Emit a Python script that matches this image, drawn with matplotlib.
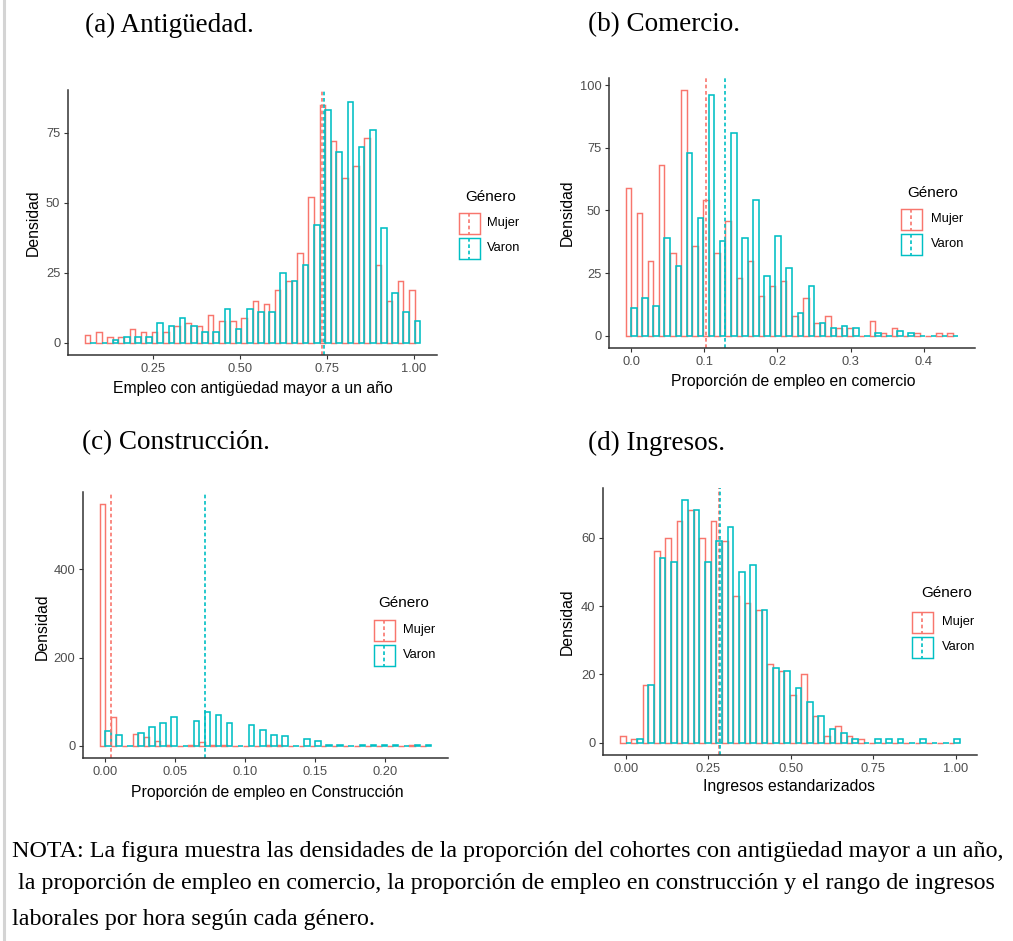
import matplotlib
matplotlib.use('Agg')
import matplotlib.pyplot as plt
from matplotlib.lines import Line2D
from matplotlib.patches import Rectangle
import numpy as np

W, H, DPI = 1013, 941, 100
RED = '#F8766D'
TEAL = '#00BFC4'
SANS = ['Liberation Sans', 'DejaVu Sans']
SERIF = ['Liberation Serif', 'DejaVu Serif']

# ---------------- data ----------------
titles = ['(a) Antigüedad.', '(b) Comercio.', '(c) Construcción.', '(d) Ingresos.']
xlabels = ['Empleo con antigüedad mayor a un año', 'Proporción de empleo en comercio',
           'Proporción de empleo en Construcción', 'Ingresos estandarizados']
ylabel = 'Densidad'
legend_title = 'Género'
groups = ['Mujer', 'Varon']

# (a) Antigüedad
a_first_center = 0.069
a_bin_width = 0.0322
a_mujer = [3, 4, 2, 2, 5, 4, 4, 4, 6, 7, 6, 10, 8, 8, 9, 15, 14, 19, 22, 32, 52, 85, 72, 59, 63, 73, 28, 15, 22, 19]
a_varon = [0, 0, 1, 2, 2, 2, 7, 6, 9, 6, 4, 4, 12, 5, 12, 11, 11, 25, 22, 28, 42, 83, 68, 86, 70, 76, 41, 18, 11, 8]
a_means = [0.735, 0.742]
a_xticks = [0.25, 0.50, 0.75, 1.00]
a_xticklabels = ['0.25', '0.50', '0.75', '1.00']
a_yticks = [0, 25, 50, 75]

# (b) Comercio
b_first_center = 0.0
b_bin_width = 0.01517
b_mujer = [59, 49, 30, 68, 33, 98, 36, 54, 33, 46, 23, 30, 16, 20, 22, 8, 15, 5, 8, 3, 3, 0, 6, 1, 3, 0, 1, 0, 1, 1]
b_varon = [11, 15, 12, 39, 28, 73, 47, 96, 38, 81, 39, 54, 24, 40, 27, 9, 20, 5, 3, 4, 3, 0, 1, 0, 2, 1, 0, 0, 0, 0]
b_means = [0.1025, 0.128]
b_xticks = [0.0, 0.1, 0.2, 0.3, 0.4]
b_xticklabels = ['0.0', '0.1', '0.2', '0.3', '0.4']
b_yticks = [0, 25, 50, 75, 100]

# (c) Construcción
c_first_center = 0.0
c_bin_width = 0.0079
c_mujer = [548, 66, 0, 26, 20, 11, 3, 0, 3, 8, 3, 3, 0, 0, 0, 3, 3, 0, 0, 0, 0, 0, 0, 0, 0, 0, 0, 0, 2, 0]
c_varon = [34, 25, 0, 30, 43, 51, 66, 0, 56, 77, 71, 53, 0, 47, 35, 25, 22, 0, 15, 10, 3, 3, 0, 3, 3, 3, 2, 0, 2, 2]
c_means = [0.0043, 0.071]
c_xticks = [0.00, 0.05, 0.10, 0.15, 0.20]
c_xticklabels = ['0.00', '0.05', '0.10', '0.15', '0.20']
c_yticks = [0, 200, 400]

# (d) Ingresos
d_first_center = 0.0
d_bin_width = 0.0343
d_mujer = [2, 1, 17, 56, 60, 65, 68, 60, 65, 59, 43, 41, 39, 23, 21, 14, 20, 8, 2, 5, 2, 1, 0, 0, 0, 0, 0, 0, 0, 0]
d_varon = [0, 1, 17, 54, 53, 71, 68, 53, 59, 63, 50, 52, 39, 22, 21, 16, 12, 8, 4, 3, 1, 0, 1, 1, 1, 0, 1, 0, 0, 1]
d_means = [0.281, 0.284]
d_xticks = [0.00, 0.25, 0.50, 0.75, 1.00]
d_xticklabels = ['0.00', '0.25', '0.50', '0.75', '1.00']
d_yticks = [0, 20, 40, 60]

note_lines = [
    'NOTA: La figura muestra las densidades de la proporción del cohortes con antigüedad mayor a un año,',
    ' la proporción de empleo en comercio, la proporción de empleo en construcción y el rango de ingresos',
    'laborales por hora según cada género.',
]

# ---------------- layout (pixels) ----------------
panels = [
    dict(first=a_first_center, w=a_bin_width, m=a_mujer, v=a_varon, means=a_means,
         xt=a_xticks, xtl=a_xticklabels, yt=a_yticks,
         box=(68, 90, 437, 355), title=(85, 25), ylab=(33, 223), xlab=(253, 388),
         leg=(465, 197, 457, 211, 487)),
    dict(first=b_first_center, w=b_bin_width, m=b_mujer, v=b_varon, means=b_means,
         xt=b_xticks, xtl=b_xticklabels, yt=b_yticks,
         box=(609, 78, 975, 348), title=(588, 25), ylab=(567, 213), xlab=(793, 382),
         leg=(907, 193, 899, 207, 931)),
    dict(first=c_first_center, w=c_bin_width, m=c_mujer, v=c_varon, means=c_means,
         xt=c_xticks, xtl=c_xticklabels, yt=c_yticks,
         box=(83, 492, 448, 758), title=(82, 443), ylab=(42, 627), xlab=(267, 792),
         leg=(378, 603, 372, 618, 403)),
    dict(first=d_first_center, w=d_bin_width, m=d_mujer, v=d_varon, means=d_means,
         xt=d_xticks, xtl=d_xticklabels, yt=d_yticks,
         box=(603, 488, 977, 755), title=(588, 443), ylab=(567, 622), xlab=(789, 787),
         leg=(921, 593, 910, 610, 942)),
]


def fx(x):
    return x / W


def fy(y):
    return 1 - y / H


fig = plt.figure(figsize=(W / DPI, H / DPI), dpi=DPI)
fig.patch.set_facecolor('white')

LW = 1.05
AXC = '#333333'
TICKC = '#4D4D4D'

for i, p in enumerate(panels):
    l, t, r, b = p['box']
    ax = fig.add_axes([fx(l), fy(b), (r - l) / W, (b - t) / H])
    n = len(p['m'])
    centers = p['first'] + p['w'] * np.arange(n)
    hw = p['w'] / 2
    ax.bar(centers - hw / 2, p['m'], width=hw, fill=False, edgecolor=RED, linewidth=LW)
    ax.bar(centers + hw / 2, p['v'], width=hw, fill=False, edgecolor=TEAL, linewidth=1.15)
    for mval, col in zip(p['means'], [RED, TEAL]):
        ax.axvline(mval, color=col, linestyle=(0, (2.2, 1.6)), linewidth=1.2)
    lo, hi = centers[0] - hw, centers[-1] + hw
    ex = 0.05 * (hi - lo)
    ax.set_xlim(lo - ex, hi + ex)
    ymax = max(max(p['m']), max(p['v']))
    ax.set_ylim(-0.05 * ymax, 1.05 * ymax)
    ax.set_xticks(p['xt'])
    ax.set_xticklabels(p['xtl'])
    ax.set_yticks(p['yt'])
    for s in ['top', 'right']:
        ax.spines[s].set_visible(False)
    for s in ['left', 'bottom']:
        ax.spines[s].set_color(AXC)
        ax.spines[s].set_linewidth(1.1)
    ax.tick_params(axis='both', colors=AXC, length=3, width=0.8, labelcolor=TICKC,
                   labelsize=9.3, pad=2.5)
    for lab in ax.get_xticklabels() + ax.get_yticklabels():
        lab.set_family(SANS)
    ax.set_facecolor('none')

    # titles and axis labels
    tx, ty = p['title']
    fig.text(fx(tx), fy(ty), titles[i], family=SERIF, fontsize=19.5, ha='left', va='center',
             color='black')
    yx, yy = p['ylab']
    fig.text(fx(yx), fy(yy), ylabel, family=SANS, fontsize=11.3, rotation=90,
             ha='center', va='center', color='black')
    xx, xy = p['xlab']
    fig.text(fx(xx), fy(xy), xlabels[i], family=SANS, fontsize=11.3,
             ha='center', va='center', color='black')

    # legend
    ltx, lty, kx, ky, lx = p['leg']
    fig.text(fx(ltx), fy(lty), legend_title, family=SANS, fontsize=11, ha='left', va='center')
    ks = 24
    for j, (g, col) in enumerate(zip(groups, [RED, TEAL])):
        y0 = ky + j * (ks + 1)
        inset = 1.5
        fig.add_artist(Rectangle((fx(kx + inset), fy(y0 + ks - inset)),
                                 (ks - 2 * inset) / W, (ks - 2 * inset) / H,
                                 transform=fig.transFigure, fill=False,
                                 edgecolor=col, linewidth=LW))
        fig.add_artist(Line2D([fx(kx + ks / 2)] * 2, [fy(y0 + inset), fy(y0 + ks - inset)],
                              transform=fig.transFigure, color=col,
                              linestyle=(0, (2.2, 1.6)), linewidth=1.2))
        fig.text(fx(lx), fy(y0 + ks / 2), g, family=SANS, fontsize=9.3,
                 ha='left', va='center')

# left border
fig.add_artist(Line2D([fx(4), fx(4)], [0, 1], transform=fig.transFigure,
                      color='#d4d4d4', linewidth=2.2))

# note text, fitted to width
note_y = [851, 884, 919]
note_x = [12, 12, 12]
fig.canvas.draw()
renderer = fig.canvas.get_renderer()
probe = fig.text(0, 0, note_lines[0], family=SERIF, fontsize=10)
wpx = probe.get_window_extent(renderer).width
probe.remove()
note_fs = 10 * (1005 - 12) / wpx
for s, x, y in zip(note_lines, note_x, note_y):
    fig.text(fx(x), fy(y), s, family=SERIF, fontsize=note_fs, ha='left', va='center',
             color='black')

fig.savefig('out.png', dpi=DPI, facecolor='white')
